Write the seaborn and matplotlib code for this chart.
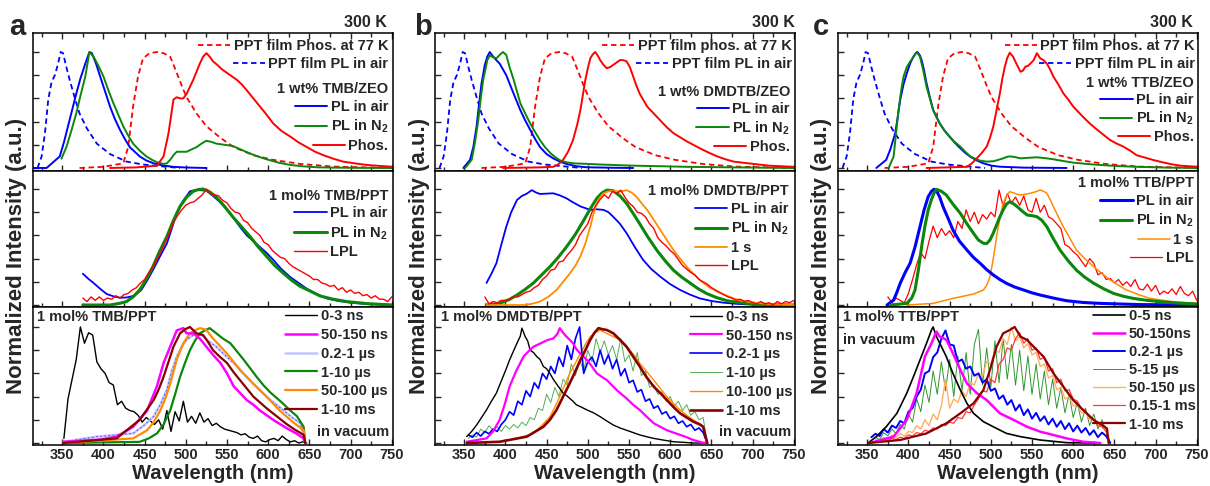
import numpy as np
import matplotlib
matplotlib.use("Agg")
import matplotlib.pyplot as plt
from matplotlib.legend import Legend
from matplotlib.ticker import MultipleLocator
import seaborn as sns

# ---------------------------------------------------------------- data
# Reference films (same in every panel)
PPT_PL_WL = [320, 325, 329, 333, 337, 341, 345, 348, 351, 355, 359, 365, 371, 380, 392, 408, 428, 448, 477, 493]
PPT_PL = [0, 0.10, 0.30, 0.59, 0.74, 0.80, 0.90, 1.0, 0.99, 0.87, 0.76, 0.61, 0.47, 0.34, 0.21, 0.12, 0.055, 0.03, 0.01, 0]
PPT_PHOS_WL = [371, 400, 424, 430, 436, 442, 448, 456, 465, 473, 481, 489, 495, 501, 507, 513, 525, 542, 558, 582, 606, 639, 679, 752]
PPT_PHOS = [0, 0.01, 0.04, 0.18, 0.53, 0.79, 0.945, 0.99, 1.0, 0.99, 0.96, 0.82, 0.71, 0.61, 0.54, 0.47, 0.36, 0.26, 0.18, 0.11, 0.07, 0.035, 0.012, 0]

# (a) TMB
ZEO_A_AIR_WL = [315, 331, 347, 352, 357, 362, 367, 372, 378, 383, 386, 391, 396, 402, 408, 414, 420, 426, 432, 438, 444, 452, 461, 473, 485, 500, 525]
ZEO_A_AIR = [0, 0, 0.10, 0.22, 0.36, 0.50, 0.64, 0.77, 0.90, 1.0, 0.99, 0.90, 0.79, 0.66, 0.53, 0.42, 0.33, 0.25, 0.18, 0.14, 0.10, 0.065, 0.04, 0.02, 0.01, 0.004, 0]
ZEO_A_N2_WL = [349, 355, 361, 367, 372, 378, 383, 388, 394, 400, 406, 412, 418, 424, 430, 436, 444, 452, 459, 465, 473, 477, 481, 485, 489, 495, 501, 507, 513, 519, 525, 531, 537, 547, 557, 565, 573, 585, 598, 612, 627, 643, 659, 680, 710, 752]
ZEO_A_N2 = [0.08, 0.18, 0.32, 0.47, 0.62, 0.79, 1.0, 0.96, 0.88, 0.79, 0.67, 0.56, 0.46, 0.36, 0.28, 0.21, 0.15, 0.10, 0.07, 0.05, 0.035, 0.04, 0.07, 0.11, 0.14, 0.14, 0.14, 0.16, 0.18, 0.21, 0.235, 0.225, 0.21, 0.20, 0.19, 0.165, 0.14, 0.105, 0.075, 0.047, 0.026, 0.014, 0.006, 0.003, 0.001, 0]
ZEO_A_PHOS_WL = [408, 440, 465, 473, 479, 485, 489, 493, 497, 501, 505, 509, 513, 517, 521, 525, 529, 533, 538, 544, 550, 556, 562, 568, 574, 582, 590, 598, 606, 616, 627, 637, 647, 657, 667, 679, 691, 705, 720, 735, 752]
ZEO_A_PHOS = [0, 0.005, 0.02, 0.10, 0.30, 0.59, 0.61, 0.60, 0.60, 0.64, 0.70, 0.76, 0.83, 0.90, 0.96, 0.99, 0.96, 0.92, 0.89, 0.85, 0.82, 0.79, 0.76, 0.72, 0.67, 0.60, 0.53, 0.46, 0.385, 0.32, 0.27, 0.22, 0.18, 0.14, 0.11, 0.08, 0.055, 0.04, 0.026, 0.018, 0.01]

PPT_A_AIR_WL = [375, 381, 388, 396, 404, 412, 420, 428, 436, 441, 446, 453, 460, 468, 477, 483, 489, 497, 505, 511, 517, 525, 533, 541, 549, 557, 565, 574, 582, 590, 598, 606, 616, 627, 637, 647, 659, 671, 685, 700, 720, 752]
PPT_A_AIR = [0.27, 0.23, 0.19, 0.14, 0.095, 0.075, 0.063, 0.065, 0.078, 0.10, 0.13, 0.21, 0.30, 0.41, 0.53, 0.66, 0.79, 0.90, 0.98, 0.99, 0.99, 0.985, 0.94, 0.89, 0.83, 0.76, 0.68, 0.60, 0.55, 0.50, 0.45, 0.39, 0.31, 0.24, 0.19, 0.14, 0.095, 0.057, 0.035, 0.02, 0.008, 0]
PPT_A_N2_WL = [375, 408, 420, 428, 436, 444, 452, 460, 468, 477, 485, 493, 501, 509, 515, 521, 529, 537, 547, 557, 567, 578, 588, 598, 608, 619, 629, 639, 651, 663, 679, 695, 720, 752]
PPT_A_N2 = [0, 0, 0.015, 0.03, 0.07, 0.13, 0.22, 0.33, 0.46, 0.59, 0.73, 0.85, 0.93, 0.98, 0.995, 1.0, 0.975, 0.93, 0.85, 0.76, 0.68, 0.59, 0.50, 0.42, 0.34, 0.27, 0.21, 0.16, 0.12, 0.078, 0.05, 0.03, 0.012, 0]
LPL_A_WL = np.arange(375, 751, 5)
LPL_A = [0.06, 0.03, 0.07, 0.04, 0.07, 0.04, 0.06, 0.05, 0.08, 0.06,
         0.09, 0.10, 0.13, 0.15, 0.19, 0.22, 0.28, 0.33, 0.40, 0.46,
         0.54, 0.62, 0.71, 0.77, 0.82, 0.86, 0.88, 0.89, 0.92, 0.95,
         1.0, 0.96, 0.95, 0.94, 0.90, 0.88, 0.83, 0.80, 0.79, 0.73,
         0.71, 0.66, 0.63, 0.60, 0.54, 0.52, 0.47, 0.44, 0.41, 0.40,
         0.36, 0.33, 0.31, 0.29, 0.27, 0.25, 0.22, 0.22, 0.19, 0.18,
         0.16, 0.17, 0.13, 0.15, 0.11, 0.13, 0.10, 0.11, 0.08, 0.09,
         0.06, 0.08, 0.05, 0.05, 0.03, 0.07]

VAC_A_BLK_WL = np.arange(352, 648, 5)
VAC_A_BLK = [0.04, 0.38, 0.55, 0.72, 1.0, 0.86, 0.95, 0.93, 0.70, 0.64,
             0.60, 0.52, 0.50, 0.33, 0.36, 0.30, 0.28, 0.27, 0.24, 0.18,
             0.22, 0.19, 0.16, 0.20, 0.12, 0.28, 0.10, 0.27, 0.19, 0.36,
             0.18, 0.23, 0.17, 0.26, 0.18, 0.21, 0.15, 0.17, 0.14, 0.12,
             0.11, 0.10, 0.09, 0.07, 0.08, 0.05, 0.04, 0.06, 0.02, 0.01,
             0.03, 0.04, 0.02, 0.06, 0.03, 0.01, 0.02, 0.0, 0.01, 0.0]
VAC_A_MAG_WL = [351, 396, 416, 436, 453, 465, 473, 481, 489, 497, 501, 509, 517, 525, 533, 542, 550, 558, 566, 574, 582, 590, 598, 606, 614, 622, 634, 643, 645]
VAC_A_MAG = [0.01, 0.03, 0.055, 0.14, 0.28, 0.49, 0.69, 0.83, 0.97, 0.99, 0.945, 0.945, 0.90, 0.83, 0.76, 0.69, 0.60, 0.49, 0.43, 0.37, 0.33, 0.28, 0.24, 0.20, 0.165, 0.13, 0.083, 0.04, 0]
VAC_A_LAV_WL = [351, 392, 436, 449, 461, 469, 477, 483, 489, 495, 501, 507, 513, 521, 529, 537, 547, 558, 568, 578, 588, 598, 608, 619, 629, 639, 645]
VAC_A_LAV = [0.01, 0.055, 0.083, 0.15, 0.23, 0.33, 0.46, 0.62, 0.745, 0.83, 0.89, 0.92, 0.945, 0.92, 0.87, 0.83, 0.76, 0.69, 0.61, 0.54, 0.47, 0.40, 0.34, 0.28, 0.22, 0.17, 0]
VAC_A_GRN_WL = [351, 444, 455, 465, 473, 481, 487, 493, 499, 505, 511, 517, 523, 529, 537, 545, 554, 562, 570, 578, 586, 594, 602, 610, 618, 626, 635, 643, 645]
VAC_A_GRN = [0, 0.01, 0.04, 0.083, 0.16, 0.28, 0.42, 0.57, 0.69, 0.80, 0.88, 0.945, 0.97, 0.99, 0.945, 0.90, 0.86, 0.79, 0.72, 0.645, 0.57, 0.50, 0.44, 0.39, 0.34, 0.285, 0.23, 0.14, 0]
VAC_A_ORG_WL = [351, 436, 453, 461, 469, 475, 481, 489, 497, 505, 511, 517, 525, 533, 541, 550, 558, 566, 574, 582, 590, 598, 606, 614, 622, 630, 643, 645]
VAC_A_ORG = [0, 0.04, 0.11, 0.18, 0.28, 0.38, 0.51, 0.72, 0.86, 0.945, 0.97, 0.99, 0.975, 0.90, 0.84, 0.77, 0.70, 0.63, 0.57, 0.51, 0.455, 0.40, 0.34, 0.28, 0.23, 0.18, 0.11, 0]
VAC_A_DRD_WL = [351, 416, 444, 452, 461, 467, 473, 479, 485, 493, 499, 505, 513, 521, 527, 533, 541, 550, 558, 566, 574, 582, 590, 598, 606, 614, 622, 630, 643, 645]
VAC_A_DRD = [0, 0.04, 0.20, 0.28, 0.37, 0.46, 0.57, 0.70, 0.83, 0.945, 0.98, 1.0, 0.945, 0.93, 0.87, 0.80, 0.745, 0.69, 0.61, 0.54, 0.47, 0.40, 0.35, 0.30, 0.255, 0.21, 0.165, 0.126, 0.07, 0]

# (b) DMDTB
ZEO_B_AIR_WL = [349, 357, 361, 365, 368, 371, 375, 378, 381, 384, 387, 393, 401, 410, 418, 424, 430, 436, 442, 450, 458, 466, 474, 486, 499, 530, 555]
ZEO_B_AIR = [0, 0.07, 0.18, 0.36, 0.55, 0.73, 0.89, 0.96, 1.0, 0.97, 0.945, 0.90, 0.80, 0.64, 0.50, 0.41, 0.33, 0.25, 0.18, 0.12, 0.083, 0.055, 0.035, 0.015, 0.006, 0.002, 0]
ZEO_B_N2_WL = [351, 359, 363, 367, 370, 373, 376, 378, 381, 385, 389, 393, 397, 401, 405, 410, 414, 418, 424, 430, 436, 442, 448, 455, 461, 467, 475, 483, 500, 515, 535, 555, 590, 620, 680, 750]
ZEO_B_N2 = [0, 0.07, 0.22, 0.41, 0.60, 0.76, 0.86, 0.93, 0.97, 0.955, 0.945, 0.975, 1.0, 0.975, 0.87, 0.76, 0.66, 0.56, 0.47, 0.385, 0.31, 0.24, 0.18, 0.126, 0.09, 0.063, 0.048, 0.04, 0.035, 0.03, 0.025, 0.02, 0.015, 0.01, 0.005, 0]
ZEO_B_PHOS_WL = [397, 440, 458, 464, 470, 476, 482, 487, 491, 494, 497, 500, 503, 506, 509, 512, 515, 519, 523, 527, 531, 535, 539, 543, 547, 551, 555, 559, 563, 568, 572, 580, 588, 596, 604, 612, 620, 628, 636, 646, 657, 667, 677, 689, 701, 720, 750]
ZEO_B_PHOS = [0, 0.005, 0.01, 0.03, 0.07, 0.14, 0.24, 0.37, 0.50, 0.63, 0.76, 0.86, 0.945, 0.98, 1.0, 0.97, 0.93, 0.89, 0.86, 0.87, 0.89, 0.91, 0.93, 0.93, 0.92, 0.87, 0.79, 0.71, 0.64, 0.58, 0.53, 0.47, 0.41, 0.35, 0.30, 0.265, 0.23, 0.20, 0.17, 0.135, 0.10, 0.075, 0.055, 0.045, 0.035, 0.02, 0.01]

PPT_B_AIR_WL = [377, 383, 389, 395, 401, 407, 414, 420, 426, 432, 437, 442, 450, 458, 466, 474, 482, 491, 497, 503, 511, 519, 525, 531, 539, 547, 557, 567, 577, 588, 600, 612, 624, 636, 650, 665, 681, 697, 720, 750]
PPT_B_AIR = [0.19, 0.27, 0.36, 0.52, 0.675, 0.80, 0.905, 0.94, 0.96, 0.99, 0.97, 0.957, 0.96, 0.963, 0.945, 0.92, 0.885, 0.85, 0.835, 0.82, 0.825, 0.82, 0.80, 0.76, 0.70, 0.62, 0.50, 0.39, 0.31, 0.244, 0.18, 0.13, 0.09, 0.057, 0.035, 0.02, 0.01, 0.004, 0, 0]
PPT_B_N2_WL = [377, 393, 404, 414, 424, 434, 444, 454, 464, 474, 485, 495, 503, 511, 517, 523, 531, 539, 547, 555, 563, 573, 584, 594, 604, 614, 624, 634, 644, 656, 669, 685, 701, 725, 750]
PPT_B_N2 = [0, 0.014, 0.045, 0.086, 0.135, 0.19, 0.26, 0.33, 0.41, 0.50, 0.61, 0.73, 0.83, 0.92, 0.965, 0.99, 0.985, 0.94, 0.876, 0.79, 0.70, 0.585, 0.47, 0.38, 0.30, 0.24, 0.19, 0.14, 0.10, 0.065, 0.037, 0.02, 0.009, 0.003, 0]
PPT_B_1S_WL = [377, 422, 432, 442, 452, 462, 470, 478, 485, 491, 497, 503, 507, 511, 515, 519, 525, 531, 539, 547, 553, 559, 565, 572, 580, 588, 596, 604, 612, 620, 628, 636, 646, 657, 667, 677, 689, 701, 725, 750]
PPT_B_1S = [0, 0, 0.01, 0.03, 0.07, 0.13, 0.20, 0.27, 0.34, 0.42, 0.53, 0.675, 0.79, 0.876, 0.93, 0.963, 0.98, 0.985, 0.977, 0.99, 0.97, 0.934, 0.88, 0.82, 0.735, 0.647, 0.56, 0.474, 0.40, 0.33, 0.27, 0.215, 0.16, 0.115, 0.085, 0.057, 0.035, 0.02, 0.006, 0]
LPL_B_WL = np.arange(375, 751, 5)
LPL_B = [0.07, 0.01, 0.03, 0.02, 0.04, 0.04, 0.05, 0.07, 0.07, 0.09,
         0.11, 0.12, 0.15, 0.17, 0.22, 0.25, 0.30, 0.31, 0.37, 0.38,
         0.43, 0.47, 0.52, 0.60, 0.65, 0.70, 0.80, 0.86, 0.91, 0.95,
         0.92, 0.98, 0.96, 0.99, 0.93, 0.88, 0.85, 0.80, 0.79, 0.76,
         0.70, 0.66, 0.58, 0.54, 0.51, 0.47, 0.44, 0.39, 0.34, 0.31,
         0.28, 0.26, 0.22, 0.20, 0.18, 0.15, 0.13, 0.11, 0.09, 0.07,
         0.06, 0.04, 0.05, 0.03, 0.04, 0.02, 0.01, 0.03, 0.01, 0.02,
         0.0, 0.03, 0.01, 0.03, 0.02, 0.04]

VAC_B_BLK_WL = [353, 359, 365, 371, 377, 383, 389, 393, 397, 401, 405, 409, 414, 418, 420, 424, 427, 430, 434, 438, 442, 446, 450, 454, 458, 462, 466, 470, 474, 478, 482, 486, 492, 499, 507, 515, 523, 531, 539, 547, 555, 563, 571, 580, 592, 604, 616, 628, 645]
VAC_B_BLK = [0.055, 0.10, 0.155, 0.22, 0.285, 0.36, 0.43, 0.50, 0.57, 0.64, 0.715, 0.78, 0.86, 0.92, 0.99, 0.917, 0.88, 0.80, 0.78, 0.745, 0.72, 0.66, 0.64, 0.60, 0.55, 0.51, 0.47, 0.43, 0.41, 0.385, 0.36, 0.33, 0.31, 0.285, 0.26, 0.227, 0.19, 0.155, 0.13, 0.11, 0.09, 0.07, 0.055, 0.04, 0.025, 0.011, 0.006, 0, 0]
VAC_B_MAG_WL = [353, 377, 385, 393, 399, 405, 413, 422, 428, 434, 440, 446, 452, 458, 463, 466, 470, 474, 478, 482, 486, 491, 499, 505, 511, 517, 523, 529, 535, 541, 547, 555, 563, 571, 580, 588, 596, 604, 612, 620, 628, 640, 645]
VAC_B_MAG = [0.011, 0.04, 0.10, 0.20, 0.33, 0.486, 0.62, 0.745, 0.79, 0.83, 0.85, 0.87, 0.89, 0.90, 0.94, 0.99, 0.95, 0.917, 0.89, 0.86, 0.81, 0.77, 0.715, 0.66, 0.60, 0.57, 0.543, 0.50, 0.457, 0.42, 0.385, 0.33, 0.285, 0.23, 0.17, 0.14, 0.11, 0.09, 0.07, 0.05, 0.026, 0.003, 0]
VAC_B_BLU_WL = np.arange(355, 646, 5)
VAC_B_BLU = [0.07, 0.05, 0.09, 0.06, 0.10, 0.08, 0.12, 0.10, 0.16, 0.20,
             0.27, 0.24, 0.36, 0.33, 0.45, 0.40, 0.52, 0.47, 0.60, 0.55,
             0.66, 0.60, 0.74, 0.66, 0.84, 0.72, 0.90, 1.0, 0.60, 0.70,
             0.74, 0.66, 0.80, 0.68, 0.76, 0.64, 0.72, 0.58, 0.64, 0.52,
             0.54, 0.44, 0.46, 0.36, 0.38, 0.30, 0.32, 0.25, 0.27, 0.21,
             0.23, 0.17, 0.19, 0.14, 0.16, 0.11, 0.13, 0.09, 0.0]
VAC_B_GRN_WL = np.arange(355, 646, 5)
VAC_B_GRN = [0.04, 0.07, 0.05, 0.12, 0.09, 0.15, 0.11, 0.14, 0.10, 0.15,
             0.12, 0.16, 0.13, 0.18, 0.15, 0.22, 0.20, 0.30, 0.28, 0.42,
             0.35, 0.48, 0.40, 0.55, 0.50, 0.68, 0.58, 0.72, 0.62, 0.80,
             0.70, 0.90, 0.78, 0.88, 0.76, 0.84, 0.72, 0.90, 0.70, 0.76,
             0.62, 0.78, 0.58, 0.62, 0.48, 0.50, 0.42, 0.44, 0.36, 0.40,
             0.32, 0.36, 0.28, 0.33, 0.24, 0.27, 0.20, 0.22, 0.0]
VAC_B_ORG_WL = [353, 393, 414, 434, 444, 454, 460, 466, 472, 478, 485, 491, 497, 503, 509, 515, 521, 527, 533, 539, 545, 551, 557, 563, 571, 580, 588, 596, 604, 612, 620, 628, 636, 640, 645]
VAC_B_ORG = [0, 0.011, 0.04, 0.083, 0.15, 0.227, 0.31, 0.40, 0.50, 0.60, 0.69, 0.77, 0.85, 0.917, 0.95, 0.974, 0.95, 0.93, 0.91, 0.89, 0.85, 0.80, 0.75, 0.687, 0.62, 0.543, 0.47, 0.40, 0.34, 0.285, 0.24, 0.20, 0.165, 0.14, 0]
VAC_B_DRD_WL = [353, 393, 426, 446, 454, 462, 470, 478, 485, 491, 497, 503, 508, 513, 518, 523, 527, 531, 539, 547, 555, 563, 571, 580, 588, 596, 604, 612, 620, 628, 636, 640, 645]
VAC_B_DRD = [0, 0.011, 0.055, 0.14, 0.20, 0.285, 0.40, 0.514, 0.62, 0.715, 0.80, 0.89, 0.95, 0.99, 0.98, 0.974, 0.96, 0.945, 0.89, 0.83, 0.745, 0.66, 0.57, 0.486, 0.43, 0.37, 0.31, 0.256, 0.22, 0.184, 0.16, 0.14, 0]

# (c) TTB
ZEO_C_AIR_WL = [361, 373, 378, 384, 387, 390, 394, 398, 402, 406, 409, 411, 414, 416, 419, 422, 426, 430, 434, 438, 444, 450, 456, 463, 469, 475, 483, 491, 501, 511, 540, 592]
ZEO_C_AIR = [0, 0.07, 0.16, 0.30, 0.44, 0.586, 0.72, 0.816, 0.90, 0.96, 0.99, 1.0, 0.97, 0.93, 0.84, 0.73, 0.61, 0.50, 0.44, 0.385, 0.32, 0.27, 0.22, 0.17, 0.13, 0.098, 0.065, 0.04, 0.02, 0.011, 0.003, 0]
ZEO_C_N2_WL = [376, 382, 385, 388, 391, 394, 398, 402, 406, 410, 414, 418, 422, 426, 430, 434, 438, 444, 450, 456, 463, 469, 475, 481, 487, 495, 503, 509, 515, 519, 523, 529, 536, 546, 556, 566, 576, 588, 600, 616, 633, 653, 673, 710, 750]
ZEO_C_N2 = [0, 0.098, 0.30, 0.50, 0.66, 0.787, 0.87, 0.917, 0.955, 1.0, 0.96, 0.84, 0.70, 0.60, 0.50, 0.44, 0.385, 0.32, 0.27, 0.225, 0.184, 0.14, 0.10, 0.08, 0.063, 0.055, 0.058, 0.07, 0.083, 0.095, 0.10, 0.095, 0.083, 0.088, 0.092, 0.085, 0.075, 0.06, 0.046, 0.035, 0.026, 0.017, 0.011, 0.004, 0]
ZEO_C_PHOS_WL = [422, 471, 477, 483, 489, 495, 499, 503, 507, 511, 514, 517, 520, 523, 527, 531, 536, 539, 542, 545, 548, 552, 556, 560, 564, 568, 572, 576, 582, 588, 594, 600, 606, 612, 620, 629, 637, 645, 653, 661, 669, 677, 687, 697, 708, 718, 730, 750]
ZEO_C_PHOS = [0, 0.01, 0.04, 0.083, 0.13, 0.184, 0.26, 0.356, 0.50, 0.644, 0.77, 0.874, 0.95, 0.994, 0.96, 0.90, 0.83, 0.84, 0.874, 0.88, 0.90, 0.93, 0.99, 0.945, 0.93, 0.90, 0.85, 0.787, 0.72, 0.644, 0.59, 0.53, 0.485, 0.44, 0.385, 0.33, 0.285, 0.24, 0.21, 0.184, 0.15, 0.11, 0.09, 0.069, 0.05, 0.034, 0.02, 0.011]

PPT_C_AIR_WL = [374, 382, 386, 390, 396, 402, 408, 414, 419, 424, 428, 431, 434, 438, 442, 448, 454, 462, 471, 479, 487, 495, 503, 511, 519, 529, 540, 550, 560, 576, 592, 612, 633, 680, 750]
PPT_C_AIR = [0, 0.043, 0.11, 0.187, 0.28, 0.36, 0.50, 0.675, 0.82, 0.934, 0.98, 0.997, 0.986, 0.93, 0.848, 0.75, 0.647, 0.55, 0.474, 0.41, 0.36, 0.305, 0.259, 0.22, 0.187, 0.155, 0.129, 0.105, 0.086, 0.06, 0.037, 0.022, 0.014, 0.004, 0]
PPT_C_N2_WL = [378, 398, 404, 408, 412, 416, 420, 424, 428, 431, 434, 440, 446, 454, 463, 471, 479, 485, 491, 495, 499, 503, 507, 511, 515, 519, 523, 528, 532, 538, 544, 550, 556, 562, 568, 576, 584, 594, 604, 614, 625, 637, 649, 661, 673, 690, 706, 728, 750]
PPT_C_N2 = [0, 0.014, 0.06, 0.129, 0.30, 0.503, 0.68, 0.819, 0.91, 0.963, 0.997, 0.98, 0.948, 0.87, 0.79, 0.70, 0.618, 0.56, 0.532, 0.53, 0.56, 0.62, 0.69, 0.76, 0.82, 0.87, 0.89, 0.87, 0.848, 0.81, 0.776, 0.77, 0.761, 0.73, 0.675, 0.57, 0.474, 0.38, 0.30, 0.24, 0.187, 0.14, 0.10, 0.075, 0.057, 0.04, 0.029, 0.016, 0.009]
PPT_C_1S_WL = [398, 430, 454, 479, 491, 495, 499, 503, 507, 511, 515, 519, 523, 530, 536, 542, 548, 554, 560, 564, 568, 572, 576, 582, 588, 596, 604, 614, 625, 635, 645, 655, 665, 679, 693, 720, 750]
PPT_C_1S = [0, 0.014, 0.057, 0.095, 0.129, 0.17, 0.244, 0.40, 0.589, 0.75, 0.876, 0.94, 0.977, 0.96, 0.948, 0.955, 0.963, 0.975, 0.991, 0.98, 0.963, 0.91, 0.848, 0.76, 0.675, 0.575, 0.474, 0.40, 0.33, 0.27, 0.216, 0.17, 0.129, 0.09, 0.057, 0.03, 0.014]
LPL_C_WL = np.arange(375, 751, 5)
LPL_C = [0.07, 0.02, 0.06, 0.04, 0.02, 0.10, 0.22, 0.35, 0.45, 0.40,
         0.55, 0.68, 0.58, 0.66, 0.60, 0.64, 0.58, 0.72, 0.66, 0.82,
         0.72, 0.80, 0.70, 0.78, 0.74, 0.80, 0.76, 0.99, 0.85, 0.96,
         0.88, 0.93, 0.86, 0.94, 0.82, 0.80, 0.92, 0.80, 0.86, 0.76,
         0.74, 0.70, 0.66, 0.52, 0.50, 0.46, 0.43, 0.38, 0.33, 0.40,
         0.36, 0.26, 0.28, 0.22, 0.23, 0.19, 0.22, 0.17, 0.20, 0.16,
         0.22, 0.14, 0.13, 0.18, 0.12, 0.17, 0.09, 0.12, 0.10, 0.14,
         0.09, 0.16, 0.10, 0.08, 0.12, 0.04]

VAC_C_BLK_WL = [351, 361, 373, 386, 398, 406, 414, 422, 428, 430, 434, 438, 446, 454, 463, 471, 479, 491, 503, 519, 536, 560, 592, 625]
VAC_C_BLK = [0, 0.055, 0.14, 0.256, 0.43, 0.57, 0.715, 0.86, 0.974, 1.0, 0.917, 0.86, 0.744, 0.60, 0.457, 0.342, 0.256, 0.184, 0.14, 0.083, 0.055, 0.026, 0.003, 0]
VAC_C_MAG_WL = [353, 382, 398, 410, 420, 428, 434, 438, 446, 454, 463, 471, 483, 495, 503, 511, 528, 544, 560, 576, 592, 612, 633]
VAC_C_MAG = [0, 0.055, 0.20, 0.43, 0.745, 0.86, 0.96, 0.917, 0.89, 0.773, 0.63, 0.514, 0.43, 0.37, 0.313, 0.256, 0.198, 0.14, 0.098, 0.069, 0.04, 0.011, 0]
VAC_C_BLU_WL = np.arange(355, 646, 5)
VAC_C_BLU = [0.05, 0.08, 0.06, 0.12, 0.09, 0.15, 0.13, 0.19, 0.17, 0.27,
             0.30, 0.40, 0.46, 0.60, 0.62, 0.74, 0.78, 0.90, 0.97, 0.85,
             0.84, 0.70, 0.72, 0.64, 0.66, 0.58, 0.60, 0.52, 0.55, 0.45,
             0.47, 0.38, 0.41, 0.33, 0.37, 0.28, 0.33, 0.24, 0.29, 0.21,
             0.26, 0.19, 0.23, 0.16, 0.21, 0.14, 0.19, 0.12, 0.17, 0.10,
             0.15, 0.09, 0.13, 0.07, 0.11, 0.05, 0.09, 0.06, 0.0]
VAC_C_GRN_WL = np.arange(360, 646, 5)
VAC_C_GRN = [0.05, 0.03, 0.09, 0.06, 0.12, 0.08, 0.16, 0.12, 0.25, 0.18,
             0.38, 0.27, 0.50, 0.35, 0.62, 0.42, 0.70, 0.45, 0.72, 0.40,
             0.75, 0.45, 0.78, 0.42, 0.85, 0.98, 0.50, 0.82, 0.48, 0.88,
             0.52, 0.90, 0.55, 0.85, 0.50, 0.80, 0.45, 0.75, 0.42, 0.68,
             0.38, 0.62, 0.33, 0.55, 0.30, 0.48, 0.26, 0.42, 0.22, 0.35,
             0.18, 0.30, 0.15, 0.25, 0.12, 0.20, 0.10, 0.0]
VAC_C_ORG_WL = np.arange(360, 646, 5)
VAC_C_ORG = [0.03, 0.02, 0.05, 0.03, 0.07, 0.05, 0.08, 0.06, 0.10, 0.09,
             0.15, 0.12, 0.20, 0.15, 0.25, 0.20, 0.32, 0.55, 0.30, 0.38,
             0.35, 0.45, 0.40, 0.52, 0.50, 0.60, 0.58, 0.70, 0.68, 0.80,
             0.78, 0.90, 0.85, 1.0, 0.88, 0.92, 0.82, 0.86, 0.76, 0.78,
             0.66, 0.68, 0.56, 0.58, 0.46, 0.48, 0.38, 0.40, 0.32, 0.33,
             0.26, 0.27, 0.20, 0.21, 0.15, 0.16, 0.10, 0.0]
VAC_C_RED_WL = np.arange(360, 646, 5)
VAC_C_RED = [0.02, 0.01, 0.03, 0.02, 0.04, 0.03, 0.05, 0.04, 0.07, 0.06,
             0.09, 0.08, 0.11, 0.10, 0.13, 0.12, 0.16, 0.15, 0.18, 0.17,
             0.22, 0.21, 0.27, 0.26, 0.33, 0.38, 0.45, 0.44, 0.55, 0.52,
             0.68, 0.72, 0.82, 0.80, 0.90, 0.95, 0.86, 0.90, 0.80, 0.82,
             0.72, 0.74, 0.62, 0.64, 0.52, 0.55, 0.45, 0.46, 0.38, 0.36,
             0.30, 0.28, 0.22, 0.20, 0.15, 0.14, 0.10, 0.0]
VAC_C_DRD_WL = [351, 390, 422, 446, 463, 479, 491, 499, 507, 515, 523, 529, 536, 544, 552, 564, 576, 588, 600, 612, 625, 635, 641, 643]
VAC_C_DRD = [0, 0.026, 0.083, 0.17, 0.256, 0.342, 0.457, 0.63, 0.83, 0.945, 0.974, 1.0, 0.917, 0.888, 0.83, 0.744, 0.60, 0.486, 0.37, 0.285, 0.198, 0.155, 0.126, 0]

PANEL_LETTERS = ["a", "b", "c"]
WL_TICKS = [350, 400, 450, 500, 550, 600, 650, 700, 750]

# ---------------------------------------------------------------- style
sns.set_style("ticks")
plt.rcParams["font.family"] = ["Liberation Sans", "DejaVu Sans"]
plt.rcParams["font.weight"] = "bold"
plt.rcParams["mathtext.fontset"] = "custom"
plt.rcParams["mathtext.rm"] = "Liberation Sans:bold"
plt.rcParams["mathtext.bf"] = "Liberation Sans:bold"
plt.rcParams["mathtext.default"] = "bf"

BLUE, GREEN, RED = "#0000ff", "#0b870b", "#ff0000"
ORANGE, MAGENTA, DARKRED = "#ff8c00", "#ff00ff", "#8b0000"
DASH = (0, (3, 2))
N2 = "PL in N$_2$"
LEG_FS = 10.5

FIG_W, FIG_H = 1210, 486
LEFTS = [33, 435, 838]
AX_W = 360
ROWS = [(33, 171), (171, 307), (307, 445)]
YLIMS = [(-0.026, 1.164), (-0.017, 1.155), (-0.017, 1.172)]

fig = plt.figure(figsize=(FIG_W / 100, FIG_H / 100), dpi=100)


def trace(ax, wl, val, color, lw=1.3, ls="-", alpha=1.0, z=2):
    wl = np.asarray(wl, dtype=float)
    val = np.asarray(val, dtype=float)
    assert wl.shape == val.shape, (len(wl), len(val))
    sns.lineplot(x=wl, y=val, ax=ax, color=color, linewidth=lw, linestyle=ls,
                 alpha=alpha, estimator=None, sort=False, legend=False, zorder=z)
    return ax.lines[-1]


def key(ax, handles, labels, anchor, title=None, align="left", spacing=0.2, hl=2.2):
    leg = Legend(ax, handles, labels, loc="upper right", bbox_to_anchor=anchor,
                 bbox_transform=ax.transAxes, frameon=False,
                 prop={"weight": "bold", "size": LEG_FS}, handlelength=hl,
                 handletextpad=0.25, labelspacing=spacing, borderpad=0.0,
                 borderaxespad=0.0, title=title,
                 title_fontproperties={"weight": "bold", "size": LEG_FS},
                 alignment="right")
    if align == "right":
        for col in leg._legend_handle_box.get_children():
            col.align = "right"
    ax.add_artist(leg)
    return leg


grid = []
for p in range(3):
    col = []
    for r, (top, bot) in enumerate(ROWS):
        ax = fig.add_axes([LEFTS[p] / FIG_W, 1 - bot / FIG_H, AX_W / FIG_W, (bot - top) / FIG_H])
        ax.set_xlim(314.5, 751.5)
        ax.set_ylim(*YLIMS[r])
        ax.xaxis.set_major_locator(MultipleLocator(50))
        ax.xaxis.set_minor_locator(MultipleLocator(25))
        ax.set_yticks([0, 0.2, 0.4, 0.6, 0.8, 1.0])
        ax.set_yticklabels([])
        ax.tick_params(axis="both", which="both", direction="in", width=1.0,
                       top=(r == 0), right=False, labelsize=10.5, pad=2.5)
        ax.tick_params(axis="both", which="major", length=4)
        ax.tick_params(axis="both", which="minor", length=3)
        for s in ax.spines.values():
            s.set_linewidth(1.1)
            s.set_color("black")
        if r < 2:
            ax.set_xticklabels([])
        else:
            ax.set_xticks(WL_TICKS)
            ax.set_xticklabels([str(t) for t in WL_TICKS], fontweight="bold")
            ax.set_xlabel("Wavelength (nm)", fontsize=14.5, fontweight="bold", labelpad=1)
        ax.set_ylabel("")
        col.append(ax)
    grid.append(col)

# ---------------------------------------------------------------- row 1: ZEO films
zeo = [
    ("1 wt% TMB/ZEO", "PPT film Phos. at 77 K", ZEO_A_AIR_WL, ZEO_A_AIR, ZEO_A_N2_WL, ZEO_A_N2, ZEO_A_PHOS_WL, ZEO_A_PHOS,
     (0.987, 0.958), (0.987, 0.645), 0.27),
    ("1 wt% DMDTB/ZEO", "PPT film phos. at 77 K", ZEO_B_AIR_WL, ZEO_B_AIR, ZEO_B_N2_WL, ZEO_B_N2, ZEO_B_PHOS_WL, ZEO_B_PHOS,
     (0.991, 0.958), (0.986, 0.625), 0.22),
    ("1 wt% TTB/ZEO", "PPT film Phos. at 77 K", ZEO_C_AIR_WL, ZEO_C_AIR, ZEO_C_N2_WL, ZEO_C_N2, ZEO_C_PHOS_WL, ZEO_C_PHOS,
     (0.992, 0.955), (0.988, 0.69), 0.2),
]
for p, (title, ref_lab, aw, av, nw, nv, pw, pv, anc1, anc2, sp) in enumerate(zeo):
    ax = grid[p][0]
    h_ph = trace(ax, PPT_PHOS_WL, PPT_PHOS, RED, lw=1.3, ls=DASH)
    h_pl = trace(ax, PPT_PL_WL, PPT_PL, BLUE, lw=1.3, ls=DASH)
    h_air = trace(ax, aw, av, BLUE, lw=1.4)
    h_n2 = trace(ax, nw, nv, GREEN, lw=1.4)
    h_phos = trace(ax, pw, pv, RED, lw=1.4)
    key(ax, [h_ph, h_pl], [ref_lab, "PPT film PL in air"], anc1, align="right", spacing=0.27)
    key(ax, [h_air, h_n2, h_phos], ["PL in air", N2, "Phos."], anc2, title=title, align="right", spacing=sp)

# ---------------------------------------------------------------- row 2: PPT films
ax = grid[0][1]
h1 = trace(ax, PPT_A_AIR_WL, PPT_A_AIR, BLUE, lw=1.3)
h2 = trace(ax, PPT_A_N2_WL, PPT_A_N2, GREEN, lw=2.2)
h3 = trace(ax, LPL_A_WL, LPL_A, RED, lw=1.0)
key(ax, [h1, h2, h3], ["PL in air", N2, "LPL"], (0.986, 0.87), title="1 mol% TMB/PPT", spacing=0.26)

ax = grid[1][1]
h1 = trace(ax, PPT_B_AIR_WL, PPT_B_AIR, BLUE, lw=1.3)
h2 = trace(ax, PPT_B_N2_WL, PPT_B_N2, GREEN, lw=2.2)
h3 = trace(ax, PPT_B_1S_WL, PPT_B_1S, ORANGE, lw=1.3)
h4 = trace(ax, LPL_B_WL, LPL_B, RED, lw=1.0)
key(ax, [h1, h2, h3, h4], ["PL in air", N2, "1 s", "LPL"], (0.983, 0.905), title="1 mol% DMDTB/PPT", spacing=0.27)

ax = grid[2][1]
h4 = trace(ax, LPL_C_WL, LPL_C, RED, lw=0.9)
h3 = trace(ax, PPT_C_1S_WL, PPT_C_1S, ORANGE, lw=1.1)
h1 = trace(ax, PPT_C_AIR_WL, PPT_C_AIR, BLUE, lw=2.2)
h2 = trace(ax, PPT_C_N2_WL, PPT_C_N2, GREEN, lw=2.2)
key(ax, [h1, h2, h3, h4], ["PL in air", N2, "1 s", "LPL"], (0.988, 0.962), title="1 mol% TTB/PPT",
    align="right", spacing=0.27)

# ---------------------------------------------------------------- row 3: time-resolved, vacuum
ax = grid[0][2]
hb = trace(ax, VAC_A_BLK_WL, VAC_A_BLK, "black", lw=1.0)
hl = trace(ax, VAC_A_LAV_WL, VAC_A_LAV, "#c4c4ff", lw=1.8)
trace(ax, VAC_A_LAV_WL, VAC_A_LAV, "#3c3cff", lw=0.6, ls=(0, (2, 3)))
hg = trace(ax, VAC_A_GRN_WL, VAC_A_GRN, GREEN, lw=1.6)
ho = trace(ax, VAC_A_ORG_WL, VAC_A_ORG, ORANGE, lw=1.6)
hm = trace(ax, VAC_A_MAG_WL, VAC_A_MAG, MAGENTA, lw=1.8)
hd = trace(ax, VAC_A_DRD_WL, VAC_A_DRD, DARKRED, lw=1.6)
key(ax, [hb, hm, hl, hg, ho, hd], ["0-3 ns", "50-150 ns", "0.2-1 µs", "1-10 µs", "50-100 µs", "1-10 ms"],
    (0.986, 0.985), spacing=0.33)
ax.text(0.011, 0.975, "1 mol% TMB/PPT", transform=ax.transAxes, ha="left", va="top", fontsize=LEG_FS, fontweight="bold")
ax.text(0.988, 0.065, "in vacuum", transform=ax.transAxes, ha="right", va="baseline", fontsize=LEG_FS, fontweight="bold")

ax = grid[1][2]
hg = trace(ax, VAC_B_GRN_WL, VAC_B_GRN, "#2a9a2a", lw=0.7, alpha=0.8)
ho = trace(ax, VAC_B_ORG_WL, VAC_B_ORG, ORANGE, lw=1.0)
hbl = trace(ax, VAC_B_BLU_WL, VAC_B_BLU, BLUE, lw=1.2)
hb = trace(ax, VAC_B_BLK_WL, VAC_B_BLK, "black", lw=1.0)
hm = trace(ax, VAC_B_MAG_WL, VAC_B_MAG, MAGENTA, lw=1.6)
hd = trace(ax, VAC_B_DRD_WL, VAC_B_DRD, DARKRED, lw=1.9)
key(ax, [hb, hm, hbl, hg, ho, hd], ["0-3 ns", "50-150 ns", "0.2-1 µs", "1-10 µs", "10-100 µs", "1-10 ms"],
    (0.994, 0.98), spacing=0.33)
ax.text(0.018, 0.975, "1 mol% DMDTB/PPT", transform=ax.transAxes, ha="left", va="top", fontsize=LEG_FS, fontweight="bold")
ax.text(0.988, 0.065, "in vacuum", transform=ax.transAxes, ha="right", va="baseline", fontsize=LEG_FS, fontweight="bold")

ax = grid[2][2]
hg = trace(ax, VAC_C_GRN_WL, VAC_C_GRN, "#2f962f", lw=0.7)
ho = trace(ax, VAC_C_ORG_WL, VAC_C_ORG, "#ffb060", lw=1.0)
hr = trace(ax, VAC_C_RED_WL, VAC_C_RED, "#ff3838", lw=0.9)
hbl = trace(ax, VAC_C_BLU_WL, VAC_C_BLU, BLUE, lw=1.4)
hb = trace(ax, VAC_C_BLK_WL, VAC_C_BLK, "black", lw=1.2)
hm = trace(ax, VAC_C_MAG_WL, VAC_C_MAG, MAGENTA, lw=1.8)
hd = trace(ax, VAC_C_DRD_WL, VAC_C_DRD, DARKRED, lw=1.6)
key(ax, [hb, hm, hbl, hg, ho, hr, hd],
    ["0-5 ns", "50-150ns", "0.2-1 µs", "5-15 µs", "50-150 µs", "0.15-1 ms", "1-10 ms"],
    (0.994, 0.985), spacing=0.28)
ax.text(0.015, 0.975, "1 mol% TTB/PPT\nin vacuum", transform=ax.transAxes, ha="left", va="top",
        fontsize=LEG_FS, fontweight="bold", linespacing=1.75)

# ---------------------------------------------------------------- panel decorations
YLAB_X = [17, 419, 822]
LETTER_X = [9, 414, 813]
K_RIGHT = [387, 795, 1193]
for p in range(3):
    fig.text(YLAB_X[p] / FIG_W, 0.474, "Normalized Intensity (a.u.)", rotation=90,
             ha="center", va="center", fontsize=16, fontweight="bold")
    fig.text(LETTER_X[p] / FIG_W, 1 - 35 / FIG_H, PANEL_LETTERS[p], ha="left", va="baseline",
             fontsize=21, fontweight="bold")
    fig.text(K_RIGHT[p] / FIG_W, 1 - 26.7 / FIG_H, "300 K", ha="right", va="baseline",
             fontsize=11.5, fontweight="bold")

fig.savefig("out.png", dpi=100)
